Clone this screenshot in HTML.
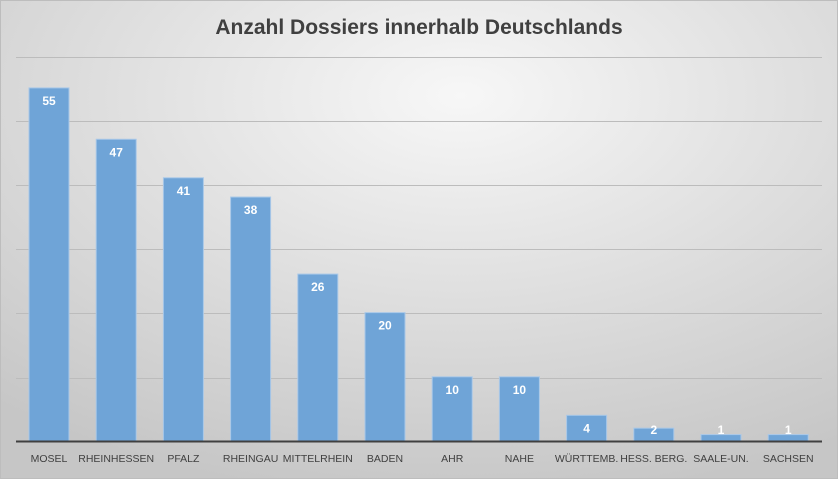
<!DOCTYPE html><html><head><style>body{margin:0}svg{display:block}</style></head><body>
<svg width="838" height="479" xmlns="http://www.w3.org/2000/svg" font-family="Liberation Sans, sans-serif">
<defs><radialGradient id="g" cx="0.55" cy="0.2" r="0.85"><stop offset="0" stop-color="#f7f7f7"/><stop offset="1" stop-color="#c6c6c6"/></radialGradient></defs>
<rect width="838" height="479" fill="url(#g)"/>
<rect x="0.5" y="0.5" width="837" height="478" fill="none" stroke="#bdbdbd"/>
<text x="419" y="34" text-anchor="middle" font-size="21" font-weight="bold" fill="#404040">Anzahl Dossiers innerhalb Deutschlands</text>
<g stroke="#bcbcbc" stroke-width="1">
<line x1="16" x2="822" y1="57.5" y2="57.5"/><line x1="16" x2="822" y1="121.5" y2="121.5"/><line x1="16" x2="822" y1="185.5" y2="185.5"/><line x1="16" x2="822" y1="249.5" y2="249.5"/><line x1="16" x2="822" y1="313.5" y2="313.5"/><line x1="16" x2="822" y1="378.5" y2="378.5"/></g>
<g fill="#6fa4d7" stroke="#a9c8e8" stroke-width="1" id="b"></g>
<line x1="16" x2="822" y1="441.5" y2="441.5" stroke="#404040" stroke-width="2"/>
<g id="t" font-size="12" fill="#fff" font-weight="bold" text-anchor="middle"></g>
<g id="l" font-size="10.5" fill="#404040" text-anchor="middle"></g>
<script>
var d=[["MOSEL",55],["RHEINHESSEN",47],["PFALZ",41],["RHEINGAU",38],["MITTELRHEIN",26],["BADEN",20],["AHR",10],["NAHE",10],["WÜRTTEMB.",4],["HESS. BERG.",2],["SAALE-UN.",1],["SACHSEN",1]];
var ns="http://www.w3.org/2000/svg";function e(p,n,a,t){var x=document.createElementNS(ns,n);for(var k in a)x.setAttribute(k,a[k]);if(t)x.textContent=t;document.getElementById(p).appendChild(x);}
d.forEach(function(v,i){var c=49+i*67.2,h=v[1]*6.42,y=441-h;e("b","rect",{x:c-20,y:y,width:40,height:h});var ty=Math.min(y+17,434);e("t","text",{x:c,y:ty},String(v[1]));e("l","text",{x:c,y:462},v[0]);});
</script>
</svg></body></html>
